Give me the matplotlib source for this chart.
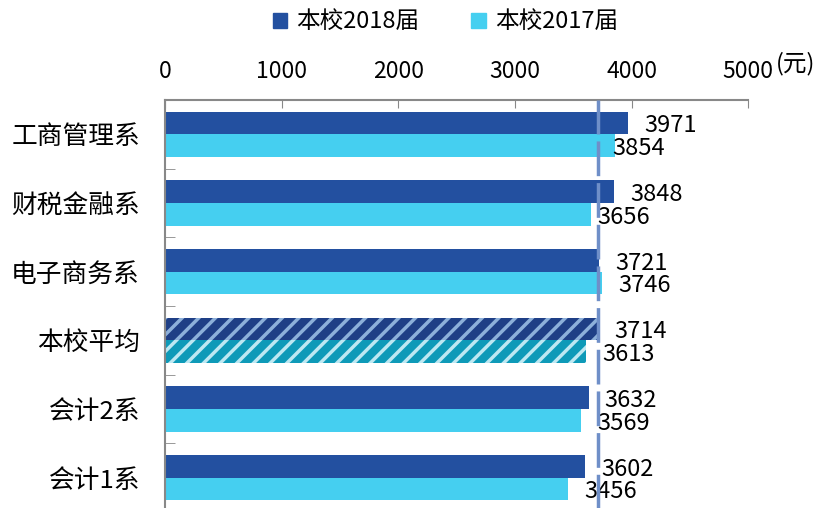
import matplotlib
matplotlib.use("Agg")
from matplotlib import pyplot as plt
from matplotlib.patches import Patch
import numpy as np

plt.rcParams['font.family'] = ['Noto Sans CJK SC', 'DejaVu Sans']
plt.rcParams['hatch.linewidth'] = 2.5

categories = ["工商管理系", "财税金融系", "电子商务系", "本校平均", "会计2系", "会计1系"]
v2018 = [3971, 3848, 3721, 3714, 3632, 3602]
v2017 = [3854, 3656, 3746, 3613, 3569, 3456]
avg_2018 = 3714
series_names = ["本校2018届", "本校2017届"]

c18 = "#2350A0"
c17 = "#45CFF0"

# a couple of labels sit a bit to the left in the original
nudge17 = {0: -13, 1: -7}

fig = plt.figure(figsize=(8.25, 5.08), dpi=100)
ax = fig.add_axes([0.2, -0.008, 0.707, 0.811])

y = np.arange(len(categories))
h = 0.33
for i in range(len(categories)):
    if categories[i] == "本校平均":
        ax.barh(y[i] - h / 2, v2018[i], height=h, color="#1F3F86", hatch="//",
                edgecolor="#8DB0DA", linewidth=0)
        ax.barh(y[i] + h / 2, v2017[i], height=h, color="#0E9AB8", hatch="//",
                edgecolor="#BDE8F2", linewidth=0)
    else:
        ax.barh(y[i] - h / 2, v2018[i], height=h, color=c18)
        ax.barh(y[i] + h / 2, v2017[i], height=h, color=c17)
    ax.annotate(str(v2018[i]), (v2018[i], y[i] - h / 2), xytext=(11.5, -2),
                textcoords="offset points", va="center", ha="left", fontsize=17)
    ax.annotate(str(v2017[i]), (v2017[i], y[i] + h / 2), xytext=(11.5 + nudge17.get(i, 0), -2),
                textcoords="offset points", va="center", ha="left", fontsize=17)

ax.axvline(avg_2018, color="#6F8FC8", lw=2.5, ls=(0, (10, 2)), zorder=3)

ax.set_xlim(0, 5000)
ax.set_ylim(len(categories) - 0.5, -0.5)
ax.xaxis.tick_top()
ax.set_xticks([0, 1000, 2000, 3000, 4000, 5000])
ax.tick_params(axis="x", direction="in", length=6, color="#888888", labelsize=16.5, pad=12)
ax.set_yticks(y)
ax.set_yticklabels(categories)
ax.set_yticks(np.arange(len(categories) + 1) - 0.5, minor=True)
ax.tick_params(axis="y", which="major", length=0, labelsize=18.5, pad=18)
ax.tick_params(axis="y", which="minor", direction="in", length=7, color="#888888")
for s in ["right", "bottom"]:
    ax.spines[s].set_visible(False)
for s in ["top", "left"]:
    ax.spines[s].set_color("#888888")
    ax.spines[s].set_linewidth(1.5)

fig.text(0.94, 0.875, "(元)", fontsize=17, ha="left", va="center")

handles = [Patch(color=c18), Patch(color=c17)]
fig.legend(handles, series_names, loc="center", bbox_to_anchor=(0.54, 0.957), ncol=2,
           frameon=False, fontsize=17, handlelength=0.6, handleheight=0.6,
           handletextpad=0.4, columnspacing=2.2)

plt.savefig("out.png", dpi=100)
